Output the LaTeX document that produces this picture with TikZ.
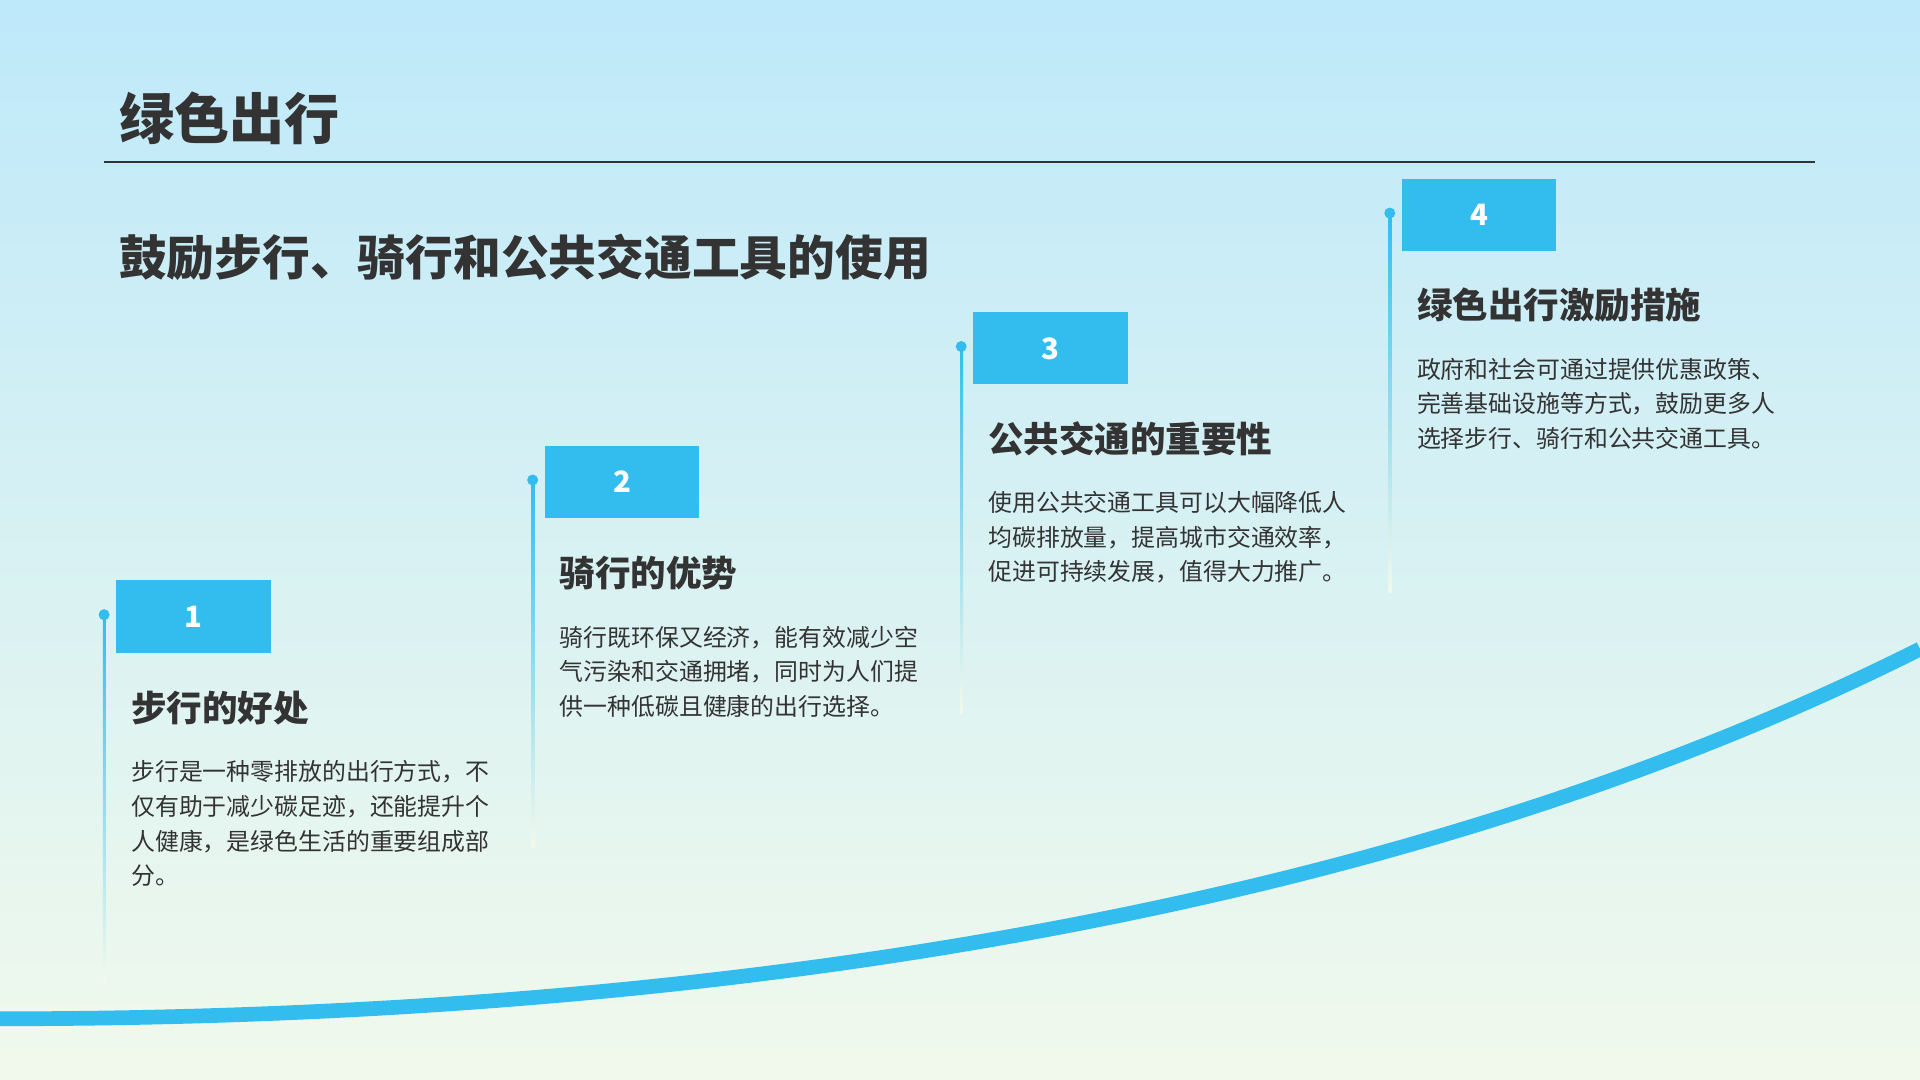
\documentclass[tikz,border=0pt]{standalone}
\usepackage{fontspec}
\setmainfont{Noto Sans CJK SC}
\newfontfamily\cjkb{Noto Sans CJK SC Bold}
\definecolor{accent}{HTML}{33BDEF}
\definecolor{txt}{HTML}{333333}
\definecolor{bgtop}{HTML}{BEE9FA}
\definecolor{bgbot}{HTML}{F1F9EC}
\tikzset{
 numbox/.style={fill=accent,minimum width=126pt,minimum height=59pt,inner sep=0,text=white,font=\fontsize{24}{24}\selectfont\bfseries},
 headtxt/.style={anchor=west,text=txt,font=\fontsize{29}{30}\selectfont\bfseries,inner sep=0},
 bodytxt/.style={anchor=north west,align=left,text=txt,font=\fontsize{19.5}{28.3}\selectfont,inner sep=0}
}
\begin{document}
\begin{tikzpicture}[x=1pt,y=-1pt]
\shade[top color=bgtop,bottom color=bgbot] (0,0) rectangle (1568,882);
\useasboundingbox (0,0) rectangle (1568,882);
\node[anchor=west,text=txt,inner sep=0,font=\fontsize{45}{46}\selectfont\bfseries] (title) at (97,97) {绿色出行};
\draw[txt,line width=1.5pt] (85,132) coordinate (l1) -- (1482,132) coordinate (l2);
\node[anchor=west,text=txt,inner sep=0,font=\fontsize{39}{40}\selectfont\bfseries] (sub) at (97,210) {鼓励步行、骑行和公共交通工具的使用};
\draw[accent,line width=12pt] (0,832) .. controls (600,832) and (1150,740) .. (1568,530);
% steps
\foreach \i/\dx/\dy/\len in {1/0/0/300,2/350/-110/300,3/700/-219/300,4/1050/-328/310}{
  \shade[top color=accent,bottom color=bgbot] (84+\dx,502+\dy) rectangle (86.5+\dx,502+\dy+\len);
  \fill[accent] (85+\dx,502+\dy) circle (4.5);
  \node[numbox] (n\i) at (158+\dx,503.5+\dy) {\i};
}
\node[headtxt] (h1) at (107,578) {步行的好处};
\node[bodytxt] (b1) at (107,621) {步行是一种零排放的出行方式，不\\仅有助于减少碳足迹，还能提升个\\人健康，是绿色生活的重要组成部\\分。};
\node[headtxt] (h2) at (457,468) {骑行的优势};
\node[bodytxt] (b2) at (457,511) {骑行既环保又经济，能有效减少空\\气污染和交通拥堵，同时为人们提\\供一种低碳且健康的出行选择。};
\node[headtxt] (h3) at (807,358) {公共交通的重要性};
\node[bodytxt] (b3) at (807,401) {使用公共交通工具可以大幅降低人\\均碳排放量，提高城市交通效率，\\促进可持续发展，值得大力推广。};
\node[headtxt] (h4) at (1157,249) {绿色出行激励措施};
\node[bodytxt] (b4) at (1157,292) {政府和社会可通过提供优惠政策、\\完善基础设施等方式，鼓励更多人\\选择步行、骑行和公共交通工具。};
\end{tikzpicture}
\end{document}
